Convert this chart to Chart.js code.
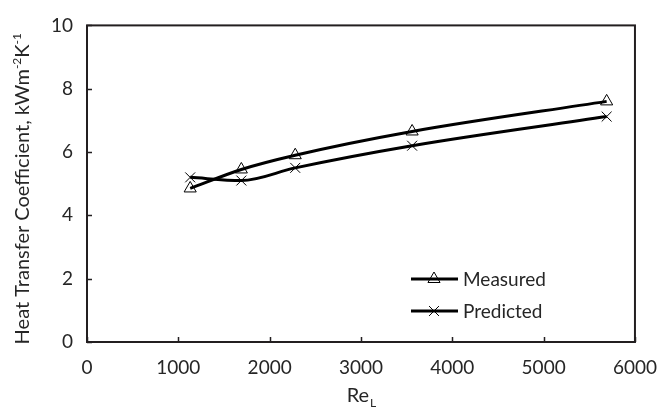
<!DOCTYPE html>
<html>
<head>
<meta charset="utf-8">
<script src="https://cdn.jsdelivr.net/npm/chart.js@4.4.1/dist/chart.umd.min.js"></script>
<style>
  html, body { margin: 0; padding: 0; background: #fff; }
  #box { width: 671px; height: 416px; }
</style>
</head>
<body>
<div id="box"><canvas id="grafico" width="671" height="416"></canvas></div>
<script>
// valores
const reynolds = [1130, 1690, 2280, 3560, 5690];
const measured = [4.85, 5.45, 5.9, 6.65, 7.6];
const predicted = [5.2, 5.1, 5.5, 6.2, 7.12];
const xTicks = [0, 1000, 2000, 3000, 4000, 5000, 6000];
const yTicks = [0, 2, 4, 6, 8, 10];
const seriesNames = ['Measured', 'Predicted'];

const fontFamily = 'Lato, "Open Sans", sans-serif';
const textColor = '#262626';

function toPoints(xs, ys) {
    return xs.map((x, i) => ({ x: x, y: ys[i] }));
}

// moldura, ticks para dentro, titulos e legenda
const extras = {
    id: 'extras',
    afterDraw(chart) {
        const ctx = chart.ctx;
        const area = chart.chartArea;
        const xs = chart.scales.x;
        const ys = chart.scales.y;
        ctx.save();
        ctx.strokeStyle = '#231f20';
        ctx.lineWidth = 2;
        ctx.strokeRect(area.left, area.top, area.right - area.left, area.bottom - area.top);

        ctx.lineWidth = 1.5;
        ctx.beginPath();
        xTicks.forEach(v => {
            const px = Math.round(xs.getPixelForValue(v)) + 0.5;
            ctx.moveTo(px, area.bottom);
            ctx.lineTo(px, area.bottom - 5);
        });
        yTicks.forEach(v => {
            const py = Math.round(ys.getPixelForValue(v)) + 0.5;
            ctx.moveTo(area.left, py);
            ctx.lineTo(area.left + 5, py);
        });
        ctx.stroke();

        // titulo eixo x: Re com L subscrito
        ctx.fillStyle = textColor;
        ctx.textBaseline = 'alphabetic';
        ctx.font = '20px ' + fontFamily;
        const reW = ctx.measureText('Re').width;
        ctx.font = '12px ' + fontFamily;
        const lW = ctx.measureText('L').width;
        const cx = (area.left + area.right) / 2;
        let sx = cx - (reW + lW) / 2;
        ctx.font = '20px ' + fontFamily;
        ctx.textAlign = 'left';
        ctx.fillText('Re', sx, 402);
        ctx.font = '12px ' + fontFamily;
        ctx.fillText('L', sx + reW + 1, 407);

        // titulo eixo y com expoentes
        const parts = [
            ['Heat Transfer Coefficient, kWm', 20, 0],
            ['-2', 12, -8],
            ['K', 20, 0],
            ['-1', 12, -8]
        ];
        let total = 0;
        parts.forEach(p => {
            ctx.font = p[1] + 'px ' + fontFamily;
            total += ctx.measureText(p[0]).width;
        });
        ctx.translate(29, (area.top + area.bottom) / 2 + 5);
        ctx.rotate(-Math.PI / 2);
        let tx = -total / 2;
        parts.forEach(p => {
            ctx.font = p[1] + 'px ' + fontFamily;
            ctx.fillText(p[0], tx, p[2]);
            tx += ctx.measureText(p[0]).width;
        });
        ctx.setTransform(1, 0, 0, 1, 0, 0);

        // legenda
        const styles = ['triangle', 'crossRot'];
        const rows = [279, 311];
        ctx.font = '19px ' + fontFamily;
        ctx.textBaseline = 'middle';
        rows.forEach((ry, i) => {
            ctx.strokeStyle = '#000';
            ctx.lineWidth = 3;
            ctx.beginPath();
            ctx.moveTo(411, ry);
            ctx.lineTo(458, ry);
            ctx.stroke();
            ctx.lineWidth = 1;
            ctx.fillStyle = 'rgba(255,255,255,0)';
            Chart.helpers.drawPoint(ctx, { pointStyle: styles[i], radius: 7, borderWidth: 1 }, 434, ry);
            ctx.fillStyle = textColor;
            ctx.fillText(seriesNames[i], 463, ry + 1);
        });
        ctx.restore();
    }
};

const ctx = document.getElementById('grafico').getContext('2d');
const grafico = new Chart(ctx, {
    type: 'scatter',
    data: {
        datasets: [{
            label: seriesNames[0],
            data: toPoints(reynolds, measured),
            showLine: true,
            borderColor: '#000',
            borderWidth: 3,
            cubicInterpolationMode: 'monotone',
            pointStyle: 'triangle',
            pointRadius: 7,
            pointBorderWidth: 1,
            pointBorderColor: '#000',
            pointBackgroundColor: 'rgba(255,255,255,0)'
        }, {
            label: seriesNames[1],
            data: toPoints(reynolds, predicted),
            showLine: true,
            borderColor: '#000',
            borderWidth: 3,
            cubicInterpolationMode: 'monotone',
            pointStyle: 'crossRot',
            pointRadius: 7,
            pointBorderWidth: 1,
            pointBorderColor: '#000',
            pointBackgroundColor: 'rgba(255,255,255,0)'
        }]
    },
    options: {
        responsive: false,
        animation: false,
        layout: {
            padding: { top: 17, right: 35, left: 0, bottom: 0 }
        },
        scales: {
            x: {
                type: 'linear',
                min: 0,
                max: 6000,
                afterBuildTicks: scale => { scale.ticks = xTicks.map(v => ({ value: v })); },
                afterFit: scale => { scale.height = 74; },
                grid: { display: false, drawTicks: false },
                border: { display: false },
                ticks: {
                    padding: 14,
                    color: textColor,
                    font: { family: fontFamily, size: 19 },
                    maxRotation: 0,
                    callback: v => String(v)
                }
            },
            y: {
                min: 0,
                max: 10,
                afterBuildTicks: scale => { scale.ticks = yTicks.map(v => ({ value: v })); },
                afterFit: scale => { scale.width = 87; },
                grid: { display: false, drawTicks: false },
                border: { display: false },
                ticks: {
                    padding: 14,
                    color: textColor,
                    font: { family: fontFamily, size: 19 },
                    callback: v => String(v)
                }
            }
        },
        plugins: {
            legend: { display: false },
            tooltip: { enabled: false }
        }
    },
    plugins: [extras]
});
</script>
</body>
</html>
